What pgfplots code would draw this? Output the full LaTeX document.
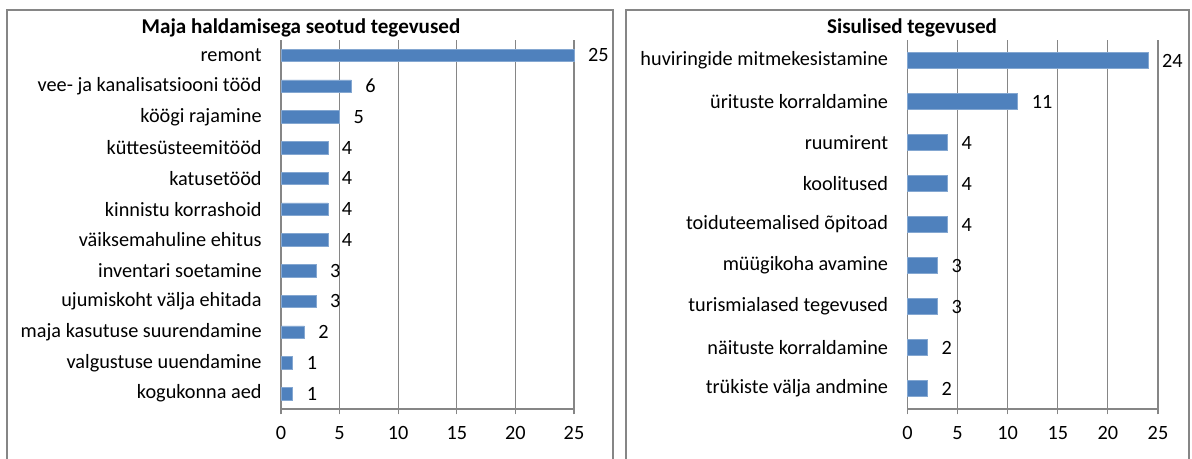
\documentclass[border=0pt]{standalone}
\usepackage{pgfplots}
\pgfplotsset{compat=1.18}
\usepackage{fontspec}
\setmainfont{Carlito}
\definecolor{barblue}{RGB}{79,129,189}
\definecolor{gridgray}{RGB}{134,134,134}
\newcommand\lblfont{\fontsize{15.2}{18}\selectfont}
\pgfplotsset{
  myaxis/.style={
    scale only axis,
    xbar, bar width=0.4,
    xmin=0, xmax=25,
    xtick={0,5,10,15,20,25},
    axis lines=left,
    axis line style={gridgray, line width=0.8pt, -},
    xmajorgrids,
    grid style={gridgray, line width=0.8pt},
    tick style={gridgray, line width=0.8pt},
    major tick length=4pt,
    xtick align=outside,
    ytick style={draw=none},
    extra y tick style={tick style={gridgray, line width=0.8pt}, grid=none, tick align=outside, major tick length=4pt},
    /pgf/number format/assume math mode=true,
    tick label style={font=\lblfont},
    xticklabel style={yshift=-5.5pt},
    yticklabel style={xshift=-9pt, align=right},
    nodes near coords,
    nodes near coords style={font=\lblfont, anchor=west, xshift=7pt},
    clip=false,
  }
}
\begin{document}
\begin{tikzpicture}
\path[use as bounding box] (0,0) rectangle (894pt,343.5pt);
\draw[gridgray, line width=1.1pt] (5.25pt,-5pt) rectangle (459.75pt,336pt);
\draw[gridgray, line width=1.1pt] (469.5pt,-5pt) rectangle (891.75pt,336pt);
\node[font=\fontsize{15.8}{18}\selectfont\bfseries] at (225.75pt,322.5pt) {Maja haldamisega seotud tegevused};
\node[font=\fontsize{15.8}{18}\selectfont\bfseries] at (684pt,322.5pt) {Sisulised tegevused};

\begin{axis}[myaxis,
  at={(210.75pt,36.75pt)}, anchor=south west,
  width=219.75pt, height=276.75pt,
  ymin=-0.5, ymax=11.5,
  ytick={0,...,11},
  yticklabels={kogukonna aed, valgustuse uuendamine, maja kasutuse suurendamine, ujumiskoht välja ehitada, inventari soetamine, väiksemahuline ehitus, kinnistu korrashoid, katusetööd, küttesüsteemitööd, köögi rajamine, vee- ja kanalisatsiooni tööd, remont},
  extra y ticks={-0.5,0.5,1.5,2.5,3.5,4.5,5.5,6.5,7.5,8.5,9.5,10.5,11.5},
  extra y tick labels={},
]
\addplot[fill=barblue, draw=barblue!70!white] coordinates {
(1,0) (1,1) (2,2) (3,3) (3,4) (4,5) (4,6) (4,7) (4,8) (5,9) (6,10) (25,11)
};
\end{axis}

\begin{axis}[myaxis,
  at={(680.6pt,36.75pt)}, anchor=south west,
  width=187.9pt, height=276.75pt,
  ymin=-0.5, ymax=8.5,
  ytick={0,...,8},
  yticklabels={trükiste välja andmine, näituste korraldamine, turismialased tegevused, müügikoha avamine, toiduteemalised õpitoad, koolitused, ruumirent, ürituste korraldamine, huviringide mitmekesistamine},
  extra y ticks={-0.5,0.5,1.5,2.5,3.5,4.5,5.5,6.5,7.5,8.5},
  extra y tick labels={},
]
\addplot[fill=barblue, draw=barblue!70!white] coordinates {
(2,0) (2,1) (3,2) (3,3) (4,4) (4,5) (4,6) (11,7) (24,8)
};
\end{axis}
\end{tikzpicture}
\end{document}
